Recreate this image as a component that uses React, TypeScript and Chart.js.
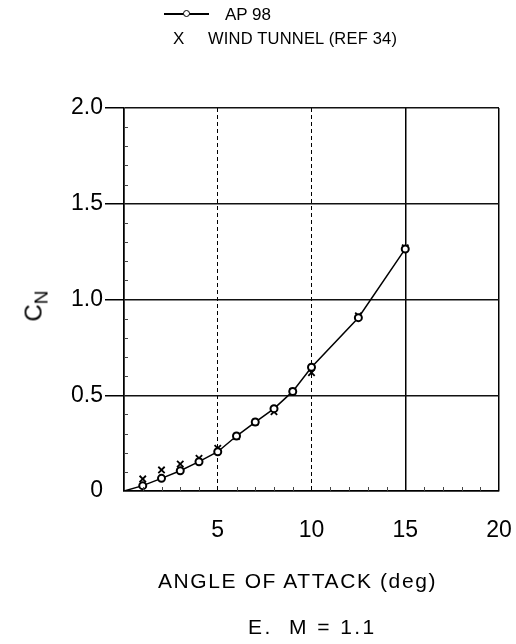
import React, { useEffect, useRef } from "react";
import { Chart, registerables } from "chart.js";

Chart.register(...registerables);

const apAlpha = [0, 1, 2, 3, 4, 5, 6, 7, 8, 9, 10, 12.5, 15];
const apCN = [0, 0.028, 0.066, 0.106, 0.153, 0.205, 0.287, 0.36, 0.43, 0.52, 0.646, 0.905, 1.264];
const wtAlpha = [1, 2, 3, 4, 5, 6, 7, 8, 9, 10, 12.5, 15];
const wtCN = [0.063, 0.11, 0.141, 0.171, 0.223, 0.285, 0.36, 0.414, 0.52, 0.618, 0.915, 1.27];
const xTicks = [0, 5, 10, 15, 20];
const yTicks = [0, 0.5, 1.0, 1.5, 2.0];
const xMinorTicks = [1, 2, 3, 4, 6, 7, 8, 9, 11, 12, 13, 14, 16, 17, 18, 19];
const yMinorTicks = [0.1, 0.2, 0.3, 0.4, 0.6, 0.7, 0.8, 0.9, 1.1, 1.2, 1.3, 1.4, 1.6, 1.7, 1.8, 1.9];
const legendLabels = ["AP 98", "WIND TUNNEL (REF 34)"];
const xTitle = "ANGLE OF ATTACK (deg)";
const caption = "E.  M = 1.1";

const FONT = "'Liberation Sans', Arial, Helvetica, sans-serif";

const minorTickPlugin = {
  id: "minorTicks",
  afterDatasetsDraw(chart: any) {
    const { ctx, chartArea, scales } = chart;
    ctx.save();
    ctx.strokeStyle = "#444";
    ctx.lineWidth = 1;
    ctx.beginPath();
    xMinorTicks.forEach((v) => {
      const px = Math.round(scales.x.getPixelForValue(v)) + 0.5;
      ctx.moveTo(px, chartArea.bottom);
      ctx.lineTo(px, chartArea.bottom - 4);
    });
    yMinorTicks.forEach((v) => {
      const py = Math.round(scales.y.getPixelForValue(v)) + 0.5;
      ctx.moveTo(chartArea.left, py);
      ctx.lineTo(chartArea.left + 4, py);
    });
    ctx.stroke();
    ctx.restore();
  },
};

export default function App() {
  const ref = useRef<HTMLCanvasElement | null>(null);

  useEffect(() => {
    if (!ref.current) return;
    const chart = new Chart(ref.current, {
      type: "scatter",
      data: {
        datasets: [
          {
            label: legendLabels[0],
            data: apAlpha.map((x, i) => ({ x, y: apCN[i] })),
            showLine: true,
            borderColor: "#000",
            borderWidth: 1.5,
            backgroundColor: "#fff",
            pointBorderColor: "#000",
            pointBorderWidth: 2,
            pointRadius: apAlpha.map((x) => (x === 0 ? 0 : 3.5)),
            pointStyle: "circle",
          },
          {
            label: legendLabels[1],
            data: wtAlpha.map((x, i) => ({ x, y: wtCN[i] })),
            showLine: false,
            borderColor: "#000",
            pointBorderColor: "#000",
            pointBorderWidth: 1.8,
            pointRadius: 4.5,
            pointStyle: "crossRot",
          },
        ],
      },
      plugins: [minorTickPlugin],
      options: {
        animation: false,
        responsive: false,
        layout: { padding: { top: 108, right: 0, left: 0, bottom: 0 } },
        plugins: { legend: { display: false }, tooltip: { enabled: false } },
        scales: {
          x: {
            type: "linear",
            min: 0,
            max: 20,
            afterBuildTicks: (s: any) => {
              s.ticks = xTicks.map((v) => ({ value: v }));
            },
            afterFit: (s: any) => {
              s.height = 644 - 491;
              s.paddingRight = 17;
              s.paddingLeft = 0;
            },
            ticks: {
              color: "#000",
              font: { family: FONT, size: 23 },
              padding: 26,
              callback: (v: any) => (v === 0 ? "" : String(v)),
              maxRotation: 0,
            },
            grid: {
              color: "#000",
              lineWidth: (c: any) => (c.tick && (c.tick.value === 5 || c.tick.value === 10) ? 1 : 1.5),
              drawTicks: false,
            },
            border: {
              color: "#000",
              width: 1.5,
              dash: (c: any) => (c.tick && (c.tick.value === 5 || c.tick.value === 10) ? [4, 3] : []),
            },
          },
          y: {
            type: "linear",
            min: 0,
            max: 2,
            afterBuildTicks: (s: any) => {
              s.ticks = yTicks.map((v) => ({ value: v }));
            },
            afterFit: (s: any) => {
              s.width = 124;
            },
            ticks: {
              color: "#000",
              font: { family: FONT, size: 23 },
              padding: 2,
              callback: (v: any) => (v === 0 ? "0" : Number(v).toFixed(1)),
            },
            grid: {
              color: "#111",
              lineWidth: 1.5,
              tickLength: 19,
              tickColor: (c: any) => (c.tick && c.tick.value === 0 ? "rgba(0,0,0,0)" : "#000"),
            },
            border: { color: "#000", width: 1.5 },
          },
        },
      },
    });
    return () => chart.destroy();
  }, []);

  const text: React.CSSProperties = {
    position: "absolute",
    fontFamily: FONT,
    color: "#000",
    whiteSpace: "nowrap",
    lineHeight: 1,
  };

  return (
    <div style={{ position: "fixed", left: 0, top: 0, width: 516, height: 644, background: "#fff" }}>
      <canvas ref={ref} width={516} height={644} style={{ position: "absolute", left: 0, top: 0 }} />
      {/* legend */}
      <div style={{ position: "absolute", left: 164, top: 13, width: 45, height: 1.5, background: "#000" }} />
      <div
        style={{
          position: "absolute",
          left: 183,
          top: 10,
          width: 5,
          height: 5,
          borderRadius: "50%",
          border: "1.5px solid #000",
          background: "#fff",
        }}
      />
      <div style={{ ...text, left: 225, top: 6, fontSize: 17 }}>{legendLabels[0]}</div>
      <div style={{ ...text, left: 173, top: 30, fontSize: 17 }}>X</div>
      <div style={{ ...text, left: 208, top: 30, fontSize: 16.5, letterSpacing: 0.2 }}>{legendLabels[1]}</div>
      {/* y title */}
      <div
        style={{
          ...text,
          left: 18,
          top: 294,
          fontSize: 24,
          transform: "rotate(-90deg)",
          transformOrigin: "center center",
        }}
      >
        C<span style={{ fontSize: 19, position: "relative", top: 6 }}>N</span>
      </div>
      {/* x title */}
      <div style={{ ...text, left: 158, top: 570, fontSize: 21, letterSpacing: 1.6 }}>{xTitle}</div>
      {/* caption */}
      <div style={{ ...text, left: 248, top: 616, fontSize: 21, letterSpacing: 2.4, whiteSpace: "pre" }}>{caption}</div>
    </div>
  );
}
